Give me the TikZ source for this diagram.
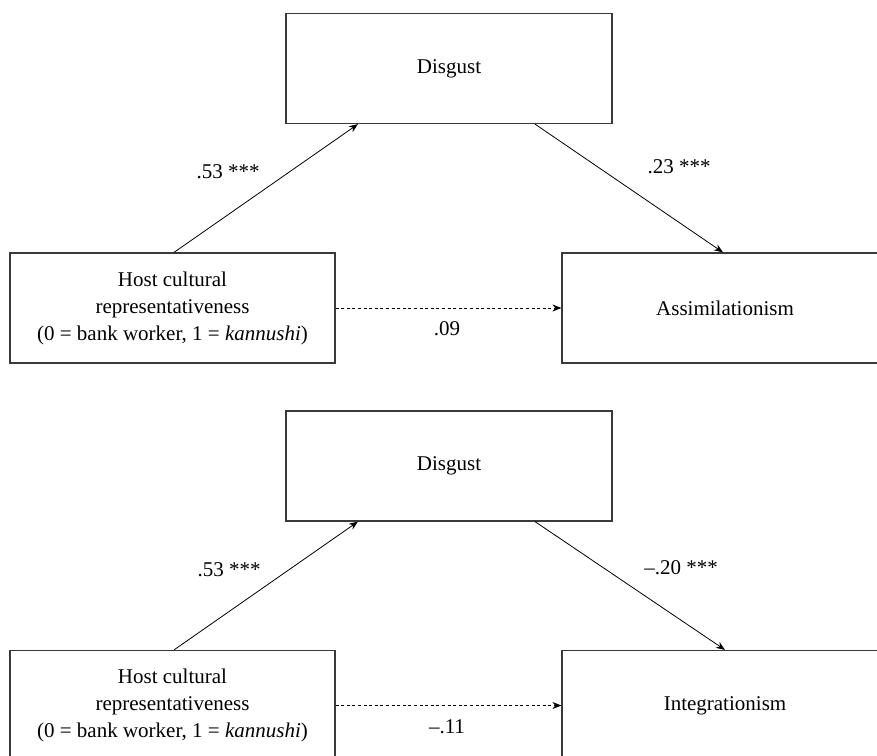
\documentclass[tikz,border=0pt]{standalone}
\usepackage{fontspec}
\setmainfont{Liberation Serif}
\usetikzlibrary{arrows.meta}
\definecolor{boxline}{HTML}{3A3A3A}
\tikzset{
  varbox/.style={draw=boxline, line width=1.2pt, minimum width=326pt, minimum height=110pt, inner sep=0pt, align=center, font=\fontsize{21}{27}\selectfont},
  path/.style={draw=black, line width=0.8pt, -{Stealth[length=9pt,width=7pt]}},
  dpath/.style={path, dash pattern=on 3pt off 2.6pt},
  coef/.style={font=\fontsize{21}{25}\selectfont, inner sep=0pt}
}
\begin{document}
\begin{tikzpicture}[x=1pt,y=-1pt]
\useasboundingbox (0,0) rectangle (877,755);
\clip (0,0) rectangle (877,755);
% ---- top panel ----
\node[varbox] (d1) at (449,68.5) {Disgust};
\node[varbox, minimum width=325pt] (h1) at (172.5,308) {Host cultural\\representativeness\\(0 = bank worker, 1 = \textit{kannushi})};
\node[varbox] (a1) at (725,308) {Assimilationism};
\draw[path] ([xshift=1.5pt]h1.north) -- ([xshift=-91pt]d1.south);
\draw[path] ([xshift=86pt]d1.south) -- ([xshift=-2pt]a1.north);
\draw[dpath] (h1.east) -- (a1.west);
\node[coef] (l1) at (228,172) {.53 ***};
\node[coef] (l2) at (679,167) {.23 ***};
\node[coef] (l3) at (447,329) {.09};
% ---- bottom panel ----
\node[varbox] (d2) at (449,466) {Disgust};
\node[varbox, minimum width=325pt] (h2) at (172.5,705.5) {Host cultural\\representativeness\\(0 = bank worker, 1 = \textit{kannushi})};
\node[varbox] (a2) at (725,705.5) {Integrationism};
\draw[path] ([xshift=1.5pt]h2.north) -- ([xshift=-91pt]d2.south);
\draw[path] ([xshift=86pt]d2.south) -- ([xshift=0pt]a2.north);
\draw[dpath] (h2.east) -- (a2.west);
\node[coef] (l4) at (229,570) {.53 ***};
\node[coef] (l5) at (681,568) {–.20 ***};
\node[coef] (l6) at (447,727) {–.11};
\end{tikzpicture}
\end{document}
